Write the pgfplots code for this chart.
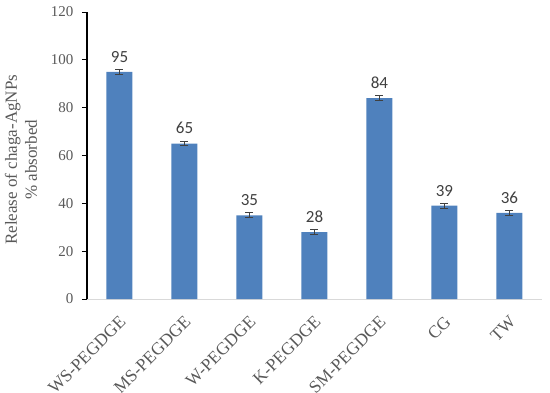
\documentclass[border=0pt]{standalone}
\usepackage{pgfplots}
\pgfplotsset{compat=1.18}
\usepackage{fontspec}
\setmainfont{Liberation Serif}
\newfontfamily\calibri{Carlito}
\definecolor{barblue}{HTML}{4F81BD}
\definecolor{txtgray}{HTML}{595959}
\definecolor{errgray}{HTML}{404040}
\definecolor{axgray}{HTML}{D9D9D9}
\begin{document}
\begin{tikzpicture}
\begin{axis}[
    scale only axis,
    width=455pt, height=287pt,
    ybar, bar width=26pt,
    xmin=-0.5, xmax=6.5,
    ymin=0, ymax=120,
    ytick={0,20,...,120},
    xtick=data,
    xticklabels={WS-PEGDGE,MS-PEGDGE,W-PEGDGE,K-PEGDGE,SM-PEGDGE,CG,TW},
    axis x line*=bottom,
    axis y line*=left,
    x axis line style={axgray, line width=1pt},
    y axis line style={black, line width=1.2pt},
    tick align=outside,
    x tick style={draw=none},
    y tick style={black, line width=1pt},
    major tick length=5pt,
    /pgf/number format/assume math mode=true,
    yticklabel style={font=\fontsize{15}{15}\selectfont, text=txtgray, xshift=-5pt},
    xticklabel style={font=\fontsize{17.5}{17.5}\selectfont, text=txtgray, rotate=45, anchor=east, yshift=-13pt, xshift=-5pt},
    ylabel={Release of chaga-AgNPs\\\% absorbed},
    every axis y label/.style={at={(axis description cs:-0.145,0.485)}, rotate=90, anchor=center},
    ylabel style={font=\fontsize{17}{20}\selectfont, text=txtgray, align=center},
    nodes near coords,
    nodes near coords style={font=\calibri\fontsize{17}{17}\selectfont, text=errgray, anchor=south, yshift=6pt},
]
\addplot[fill=barblue, draw=none,
    error bars/.cd, y dir=both, y explicit,
    error bar style={errgray, line width=1pt},
    error mark options={errgray, rotate=90, mark size=4pt, line width=1pt}]
table[x=x, y=y, y error=e] {
x y e
0 95 1
1 65 1
2 35 1
3 28 1
4 84 1.2
5 39 1
6 36 1
};
\end{axis}
\pgfresetboundingbox
\useasboundingbox (-87pt,-93pt) rectangle (463pt,299pt);
\end{tikzpicture}
\end{document}
